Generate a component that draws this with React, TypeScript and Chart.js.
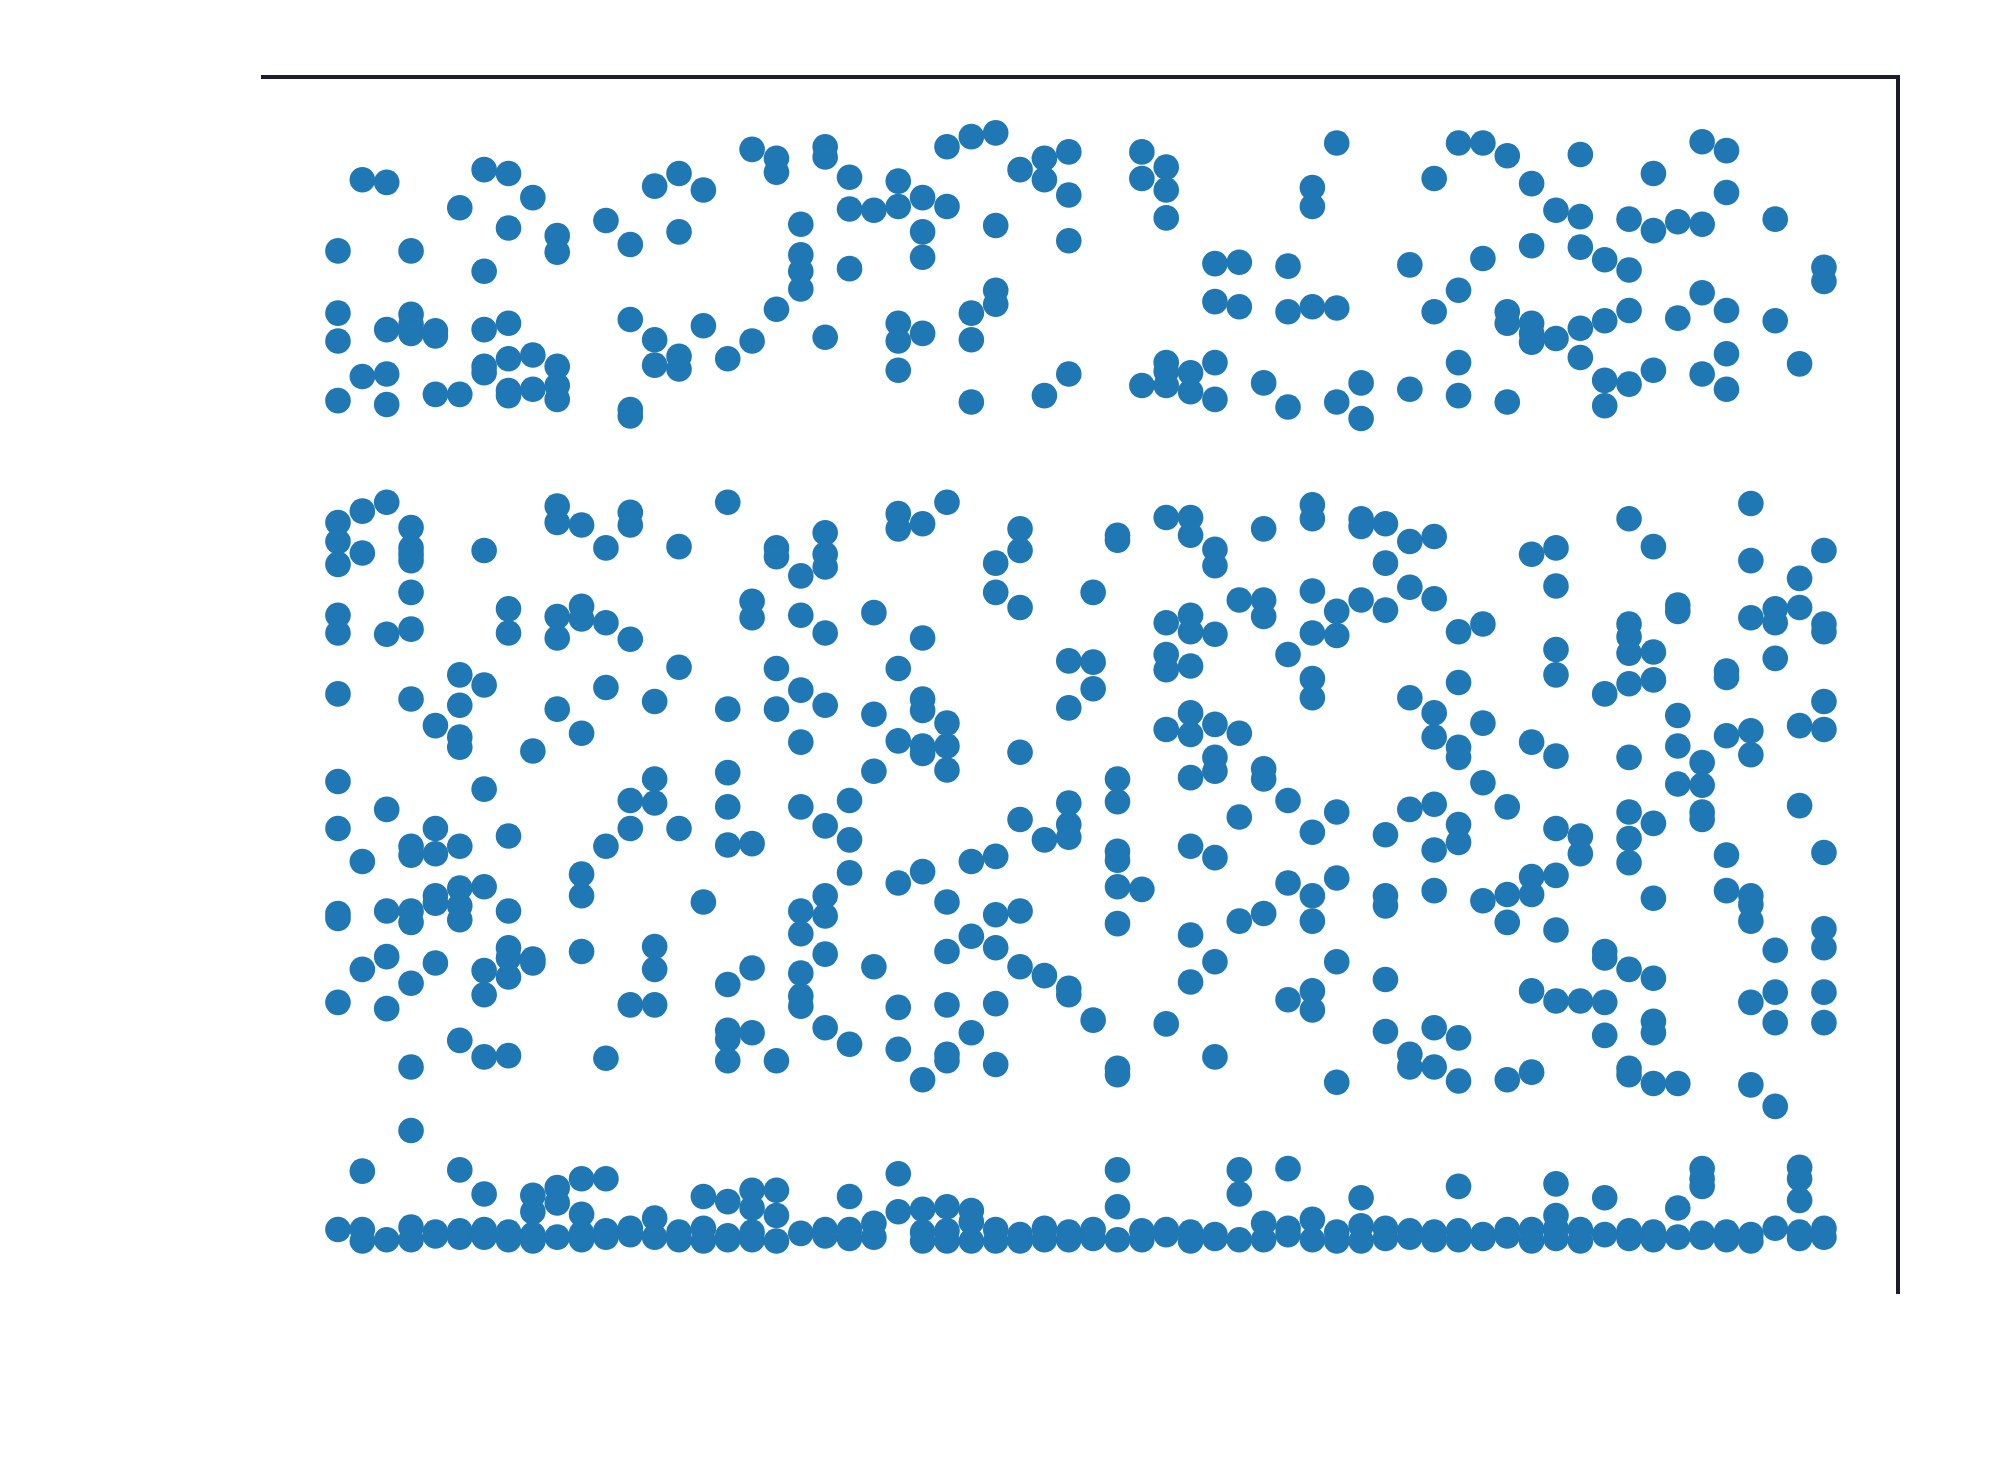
import React, { useEffect, useRef } from "react";
import { Chart, registerables } from "chart.js";

Chart.register(...registerables);

const upperBand: number[][] = [
  [803,754,732,685],[859,704],[857,741,706,682],[803,753,745,738],[740,736,690],[837,690],
  [867,787,741,712,707],[864,821,746,718,693,689],[845,721,694],[815,802,712,697,686],[],[827],
  [808,749,678,673],[854,733,713],[864,818,720,710],[851,744],[718],[883,732],[876,865,757],
  [824,800,787,773],[885,877,735],[861,836,789],[835],[858,838,746,732,709],[845,818,798,738],
  [885,838],[893,754,733,684],[896,823,772,761],[867],[876,859,689],[881,847,811,706],[],[],
  [881,860,697],[869,851,829,715,708,697],[707,692],[793,763,715,686],[794,759],[699],[791,755,680],
  [853,838,759],[888,758,684],[699,671],[],[792,694],[860,755],[888,772,715,689],[888,797],
  [878,755,746,684],[856,807,746,738,731],[835,734],[879,830,806,742,719],[796,748,701,681],
  [828,788,756,698],[864,819,709],[826,750],[889,824,770,706],[882,849,756,722,694],[],[828,748],[714],[790,779],
];

const middleBand: number[][] = [
  [589,574,556,516,502,454,385,348,281,277,211],[598,565,322,237],[605,501,363,283,247,206],
  [585,569,564,559,534,505,450,334,327,283,274,226,160,110],[429,348,328,295,289,242],
  [469,445,420,412,334,301,287,276,181],[567,461,379,302,236,217,168],[521,502,342,283,254,246,231,169],
  [409,245,242],[602,589,515,498,442],[587,523,513,423,312,295,251],[569,510,459,334,167],
  [597,587,497,370,348,209],[448,387,368,255,237,209],[570,475,348],[290],
  [605,442,392,365,335,225,189,182,165],[527,514,336,238,187],[569,562,474,442,165],
  [547,516,457,416,365,283,265,234,216,208],[581,564,554,502,445,350,295,279,249,191],[370,339,313,178],
  [518,438,393,239],[596,584,474,417,305,207,174],[588,498,450,441,413,407,314,150],
  [605,431,413,394,290,251,209,170,165],[322,263,187],[557,534,326,280,254,210,162],
  [584,567,522,408,355,283,239],[339,232],[480,443,368,351,341,222,217],[534,479,458,197],
  [579,575,387,369,330,323,302,273,159,154],[300],[593,510,485,473,426,194],
  [593,579,516,503,476,439,422,388,334,264,227],[568,555,501,430,404,393,325,243,168],[528,423,357,275],
  [584,528,515,395,387,281],[485,370,305,213],[603,592,535,502,466,451,345,295,275,220,205],
  [519,500,361,309,243,148],[592,586,528],[588,557,520,343,295,287,229,188],[574,538,451,363,170,160],
  [578,529,439,420,367,331,299,191,160],[503,463,412,404,351,337,183,149],[509,431,384,291],
  [365,296,274,150],[564,416,310,296,220,156],[569,539,489,469,405,348,311,268,212],[342,328,212],
  [454,251,246,211,185],[592,509,499,486,462,404,361,340,321,237,159,154],
  [570,487,465,352,293,230,196,187,147],[524,519,437,413,383,147],[400,382,361,355],[472,467,421,327,299],
  [604,559,514,425,406,295,288,275,211,146],[521,510,482,252,219,195,129],[545,522,429,366],
  [567,509,503,448,426,329,269,254,219,195],
];

const lowerBand: number[][] = [
  [32],[78,32,23],[24],[34,24],[30,27],[79,31,26],[60,32,26],[30,24],[59,46,28,23],[65,53,26],[72,44,29,24],
  [72,31,26],[33,28],[41,26],[30,24],[58,33,23],[54,27,24],[63,49,30,24],[63,43,23],[29],[32,27],[58,32,25],
  [37,26],[76,46],[48,30,23],[50,31,23],[47,38,23],[32,23],[28,23],[33,24],[30,24],[32,25],[79,50,24],[31,24],
  [32,28],[30,23],[28,25],[79,60,24],[37,24],[80,33,28],[40,24],[30,23],[57,35,23],[33,25],[31,26],[30,24],
  [66,31,24],[28,25],[32,27],[32,23],[68,43,33,25],[32,23],[57,28],[31,25],[30,24],[49,26],[80,72,66,29,26],
  [30,24],[28,23],[33],[81,72,55,30,25],[33,26],
];

const spineColor = "#1b1c2c";
const markColor = "#1f77b4";

function toPoints(): { x: number; y: number }[] {
  const pts: { x: number; y: number }[] = [];
  [upperBand, middleBand, lowerBand].forEach((band) =>
    band.forEach((values, col) => values.forEach((y) => pts.push({ x: col, y })))
  );
  return pts;
}

const spines = {
  id: "spines",
  afterDatasetsDraw(chart: any) {
    const { ctx, chartArea } = chart;
    const half = 2;
    ctx.save();
    ctx.fillStyle = spineColor;
    ctx.fillRect(chartArea.left, chartArea.top - half, chartArea.right - chartArea.left + half, half * 2);
    ctx.fillRect(chartArea.right - half, chartArea.top - half, half * 2, chartArea.bottom - chartArea.top + half + 1);
    ctx.restore();
  },
};

export default function App() {
  const ref = useRef<HTMLCanvasElement | null>(null);
  useEffect(() => {
    if (!ref.current) return;
    const chart = new Chart(ref.current, {
      type: "scatter",
      data: {
        datasets: [
          {
            data: toPoints(),
            backgroundColor: markColor,
            borderWidth: 0,
            pointRadius: 12.8,
            pointHoverRadius: 12.8,
          },
        ],
      },
      plugins: [spines],
      options: {
        animation: false,
        responsive: false,
        devicePixelRatio: 1,
        layout: { padding: { left: 261, top: 77, right: 92, bottom: 177 } },
        plugins: { legend: { display: false }, tooltip: { enabled: false }, title: { display: false } },
        scales: {
          x: {
            type: "linear",
            position: "top",
            min: -3.16,
            max: 64.04,
            ticks: { display: false },
            grid: { display: false, drawTicks: false },
            border: { display: false },
          },
          y: {
            type: "linear",
            position: "right",
            min: -18,
            max: 940,
            ticks: { display: false },
            grid: { display: false, drawTicks: false },
            border: { display: false },
          },
        },
      },
    });
    return () => chart.destroy();
  }, []);
  return (
    <canvas
      ref={ref}
      width={1990}
      height={1470}
      style={{ position: "absolute", left: 0, top: 0, width: 1990, height: 1470 }}
    />
  );
}
